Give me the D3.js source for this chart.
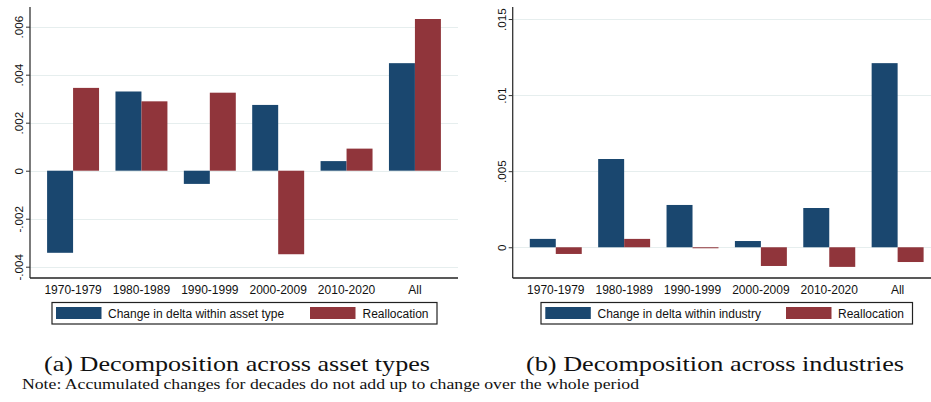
<!DOCTYPE html>
<html>
<head>
<meta charset="utf-8">
<script src="https://cdn.jsdelivr.net/npm/d3@7/dist/d3.min.js"></script>
<style>
  body { margin: 0; background: #fff; }
  svg { display: block; }
</style>
</head>
<body>
<div id="chart"></div>
<script>
var periods = ['1970-1979', '1980-1989', '1990-1999', '2000-2009', '2010-2020', 'All']

// panel (a): across asset types
var assetWithin = [-0.00342, 0.0033, -0.00055, 0.00274, 0.0004, 0.00448]
var assetRealloc = [0.00345, 0.00289, 0.00325, -0.00348, 0.00092, 0.00632]
var assetTicks = [-0.004, -0.002, 0, 0.002, 0.004, 0.006]
var assetTickLabels = ['-.004', '-.002', '0', '.002', '.004', '.006']

// panel (b): across industries
var industryWithin = [0.00055, 0.0058, 0.00278, 0.00041, 0.00258, 0.0121]
var industryRealloc = [-0.00044, 0.00055, -0.00005, -0.00123, -0.00129, -0.00097]
var industryTicks = [0, 0.005, 0.01, 0.015]
var industryTickLabels = ['0', '.005', '.01', '.015']

var seriesNames = {
  asset: ['Change in delta within asset type', 'Reallocation'],
  industry: ['Change in delta within industry', 'Reallocation']
}
var captions = ['(a) Decomposition across asset types', '(b) Decomposition across industries']
var note = 'Note: Accumulated changes for decades do not add up to change over the whole period'

var NAVY = '#1a476f'
var MAROON = '#90353b'
var GRID = '#e6eeee'
var SANS = 'Liberation Sans, Arial, sans-serif'
var SERIF = 'Liberation Serif, Times New Roman, serif'

var width = 931
var height = 402

var svg = d3.select('#chart')
  .append('svg')
  .attr('width', width)
  .attr('height', height)

function drawPanel (opts) {
  var g = svg.append('g')

  var x = d3.scaleBand()
    .domain(periods)
    .range([opts.left, opts.left + 428])
    .paddingInner(0.24)
    .paddingOuter(0.25)

  var y = d3.scaleLinear()
    .domain(opts.domain)
    .range([278, 7])

  // grid
  g.append('g')
    .selectAll('line')
    .data(opts.ticks)
    .enter().append('line')
    .attr('x1', opts.left)
    .attr('x2', opts.left + 428)
    .attr('y1', function (d) { return Math.round(y(d)) + 0.5 })
    .attr('y2', function (d) { return Math.round(y(d)) + 0.5 })
    .attr('stroke', GRID)
    .attr('stroke-width', 1)

  var half = x.bandwidth() / 2
  var rows = periods.map(function (p, i) {
    return { period: p, within: opts.within[i], realloc: opts.realloc[i] }
  })

  var groups = g.append('g')
    .selectAll('g')
    .data(rows)
    .enter().append('g')

  groups.append('rect')
    .attr('x', function (d) { return x(d.period) })
    .attr('width', half)
    .attr('y', function (d) { return y(Math.max(0, d.within)) })
    .attr('height', function (d) { return Math.abs(y(d.within) - y(0)) })
    .attr('fill', NAVY)

  groups.append('rect')
    .attr('x', function (d) { return x(d.period) + half })
    .attr('width', half)
    .attr('y', function (d) { return y(Math.max(0, d.realloc)) })
    .attr('height', function (d) { return Math.max(1, Math.abs(y(d.realloc) - y(0))) })
    .attr('fill', MAROON)

  // y axis
  var yAxis = d3.axisLeft(y)
    .tickValues(opts.ticks)
    .tickFormat(function (d, i) { return opts.tickLabels[i] })
    .tickSize(4)
    .tickPadding(3)

  var ya = g.append('g')
    .attr('transform', 'translate(' + opts.left + ',0)')
    .call(yAxis)
  ya.select('.domain').attr('stroke', '#333').attr('stroke-width', 1.3)
  ya.selectAll('.tick line').attr('stroke', '#333')
  ya.selectAll('.tick text')
    .attr('font-family', SANS)
    .attr('font-size', 11.7)
    .attr('fill', '#111')
    .attr('transform', 'rotate(-90)')
    .attr('x', 0)
    .attr('y', -7)
    .attr('dy', 0)
    .attr('text-anchor', 'middle')
  ya.select('.domain').attr('d', 'M0,' + 278 + 'V7')

  // x axis
  var xAxis = d3.axisBottom(x).tickSize(0).tickPadding(7)
  var xa = g.append('g')
    .attr('transform', 'translate(0,278)')
    .call(xAxis)
  xa.select('.domain')
    .attr('d', 'M' + opts.left + ',0H' + (opts.left + 428))
    .attr('stroke', '#222')
    .attr('stroke-width', 1.5)
  xa.selectAll('.tick text')
    .attr('font-family', SANS)
    .attr('font-size', 12)
    .attr('fill', '#111')

  // legend
  var lg = g.append('g')
  lg.append('rect')
    .attr('x', opts.legend.box[0] + 0.5)
    .attr('y', 302.5)
    .attr('width', opts.legend.box[1] - opts.legend.box[0])
    .attr('height', 21.5)
    .attr('fill', '#fff')
    .attr('stroke', '#222')
    .attr('stroke-width', 1.2)

  var items = [
    { name: opts.names[0], color: NAVY, sx: opts.legend.sw[0], tx: opts.legend.tx[0] },
    { name: opts.names[1], color: MAROON, sx: opts.legend.sw[1], tx: opts.legend.tx[1] }
  ]
  lg.selectAll('rect.sw')
    .data(items)
    .enter().append('rect')
    .attr('class', 'sw')
    .attr('x', function (d) { return d.sx })
    .attr('y', 307)
    .attr('width', 45.5)
    .attr('height', 12)
    .attr('fill', function (d) { return d.color })
  lg.selectAll('text')
    .data(items)
    .enter().append('text')
    .attr('x', function (d) { return d.tx })
    .attr('y', 317.5)
    .attr('font-family', SANS)
    .attr('font-size', 12)
    .attr('fill', '#111')
    .text(function (d) { return d.name })

  // caption
  svg.append('text')
    .attr('x', opts.caption.x)
    .attr('y', 371)
    .attr('font-family', SERIF)
    .attr('font-size', 22)
    .attr('fill', '#111')
    .attr('textLength', opts.caption.w)
    .attr('lengthAdjust', 'spacingAndGlyphs')
    .text(opts.caption.text)
}

drawPanel({
  left: 30,
  domain: [-0.00447, 0.00682],
  ticks: assetTicks,
  tickLabels: assetTickLabels,
  within: assetWithin,
  realloc: assetRealloc,
  names: seriesNames.asset,
  legend: { box: [51.5, 436.5], sw: [56, 310], tx: [108, 362.5] },
  caption: { x: 44, w: 386, text: captions[0] }
})

drawPanel({
  left: 512.7,
  domain: [-0.00202, 0.01579],
  ticks: industryTicks,
  tickLabels: industryTickLabels,
  within: industryWithin,
  realloc: industryRealloc,
  names: seriesNames.industry,
  legend: { box: [540.5, 912], sw: [545.3, 786], tx: [597.5, 838] },
  caption: { x: 526, w: 378, text: captions[1] }
})

svg.append('text')
  .attr('x', 22)
  .attr('y', 389)
  .attr('font-family', SERIF)
  .attr('font-size', 15)
  .attr('fill', '#111')
  .attr('textLength', 617)
  .attr('lengthAdjust', 'spacingAndGlyphs')
  .text(note)
</script>
</body>
</html>
